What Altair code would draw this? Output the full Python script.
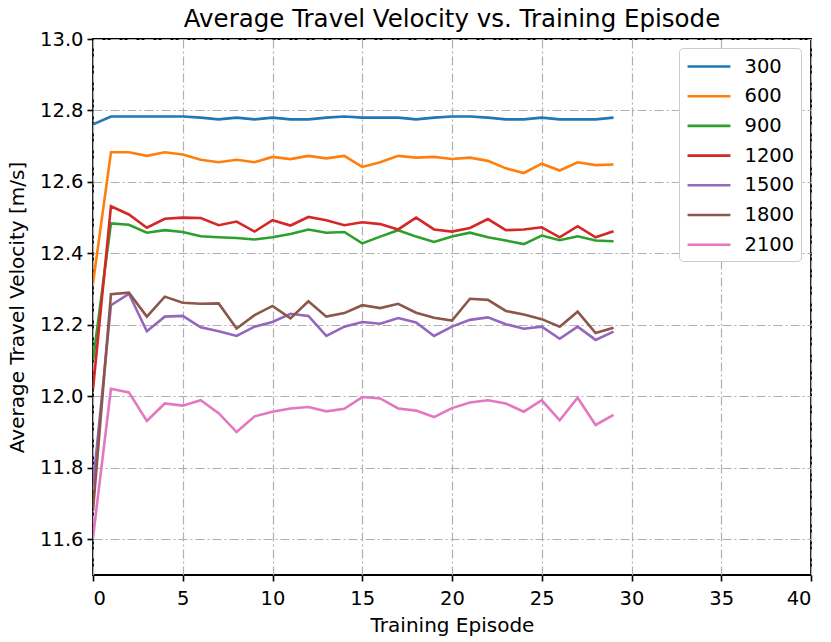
import altair as alt
import pandas as pd

episodes = list(range(30))
series_names = ["300", "600", "900", "1200", "1500", "1800", "2100"]
series_colors = ["#1f77b4", "#ff7f0e", "#2ca02c", "#d62728", "#9467bd", "#8c564b", "#e377c2"]

v300 = [12.761, 12.783, 12.783, 12.783, 12.783, 12.783, 12.780, 12.775, 12.780, 12.775,
        12.780, 12.775, 12.775, 12.780, 12.783, 12.780, 12.780, 12.780, 12.775, 12.780,
        12.783, 12.783, 12.780, 12.775, 12.775, 12.780, 12.775, 12.775, 12.775, 12.780]
v600 = [12.316, 12.683, 12.683, 12.673, 12.683, 12.677, 12.662, 12.655, 12.662, 12.655,
        12.670, 12.664, 12.673, 12.666, 12.673, 12.642, 12.655, 12.673, 12.668, 12.670,
        12.664, 12.668, 12.659, 12.638, 12.625, 12.651, 12.632, 12.655, 12.647, 12.649]
v900 = [12.100, 12.484, 12.480, 12.458, 12.465, 12.460, 12.448, 12.445, 12.443, 12.439,
        12.445, 12.454, 12.467, 12.458, 12.460, 12.428, 12.447, 12.465, 12.447, 12.432,
        12.447, 12.458, 12.445, 12.436, 12.426, 12.450, 12.437, 12.448, 12.436, 12.434]
v1200 = [12.020, 12.532, 12.509, 12.472, 12.497, 12.500, 12.499, 12.479, 12.489, 12.461,
         12.493, 12.478, 12.502, 12.493, 12.479, 12.487, 12.482, 12.467, 12.500, 12.467,
         12.461, 12.471, 12.496, 12.465, 12.467, 12.473, 12.445, 12.476, 12.445, 12.462]
v1500 = [11.750, 12.255, 12.287, 12.182, 12.223, 12.225, 12.193, 12.182, 12.169, 12.195,
         12.208, 12.231, 12.225, 12.169, 12.195, 12.208, 12.203, 12.219, 12.207, 12.169,
         12.195, 12.214, 12.221, 12.202, 12.189, 12.195, 12.161, 12.195, 12.158, 12.181]
v1800 = [11.680, 12.286, 12.290, 12.223, 12.279, 12.262, 12.259, 12.260, 12.190, 12.227,
         12.253, 12.218, 12.266, 12.223, 12.233, 12.255, 12.247, 12.259, 12.234, 12.220,
         12.212, 12.273, 12.270, 12.239, 12.229, 12.216, 12.195, 12.237, 12.177, 12.192]
v2100 = [11.605, 12.021, 12.011, 11.931, 11.980, 11.974, 11.989, 11.953, 11.900, 11.944,
         11.957, 11.966, 11.970, 11.958, 11.965, 11.998, 11.994, 11.966, 11.960, 11.942,
         11.967, 11.983, 11.989, 11.980, 11.957, 11.989, 11.933, 11.996, 11.920, 11.948]

x_ticks = [0, 5, 10, 15, 20, 25, 30, 35, 40]
y_ticks = [11.6, 11.8, 12.0, 12.2, 12.4, 12.6, 12.8, 13.0]

all_values = [v300, v600, v900, v1200, v1500, v1800, v2100]
rows = []
for name, vals in zip(series_names, all_values):
    for ep, v in zip(episodes, vals):
        rows.append({"episode": ep, "velocity": v, "series": name})
df = pd.DataFrame(rows)

FONT = "DejaVu Sans"
grid_dash = [9, 3, 2, 3]

chart = alt.Chart(df).mark_line(strokeWidth=2.6, clip=True).encode(
    x=alt.X("episode:Q",
            scale=alt.Scale(domain=[0, 40], nice=False, zero=False),
            axis=alt.Axis(values=x_ticks, title="Training Episode", format="d",
                          labelPadding=8, titlePadding=8)),
    y=alt.Y("velocity:Q",
            scale=alt.Scale(domain=[11.5, 13.0], nice=False, zero=False),
            axis=alt.Axis(values=y_ticks, title="Average Travel Velocity [m/s]",
                          format=".1f", labelPadding=4, titlePadding=12)),
    color=alt.Color("series:N",
                    scale=alt.Scale(domain=series_names, range=series_colors),
                    legend=alt.Legend(title=None, orient="none", legendX=586, legendY=9,
                                      symbolType="M-1.95,0H1.95", symbolSize=484,
                                      symbolStrokeWidth=2.6, symbolOffset=11.5,
                                      labelOffset=23, labelAlign="left", rowPadding=7.7,
                                      padding=6,
                                      labelFontSize=19.5, labelFont=FONT, labelColor="black",
                                      strokeColor="#cccccc", cornerRadius=4,
                                      fillColor="white")),
    order=alt.Order("episode:Q"),
    detail="series:N",
).properties(
    width=718,
    height=536,
    title=alt.TitleParams("Average Travel Velocity vs. Training Episode",
                          fontSize=24.5, font=FONT, fontWeight="normal", color="black",
                          offset=-3),
    padding={"left": 85, "top": 31, "right": 12, "bottom": 62},
    autosize=alt.AutoSizeParams(type="none"),
).configure_view(
    stroke="black", strokeWidth=1.8
).configure_axis(
    domain=False,
    grid=True,
    gridColor="#b0b0b0",
    gridWidth=1.2,
    gridDash=grid_dash,
    ticks=True,
    tickColor="black",
    tickWidth=1.6,
    tickSize=6,
    labelFont=FONT,
    labelFontSize=19.5,
    labelColor="black",
    titleFont=FONT,
    titleFontSize=20,
    titleFontWeight="normal",
    titleColor="black",
)

chart.save("out.html", embed_options={"renderer": "svg", "actions": False})
